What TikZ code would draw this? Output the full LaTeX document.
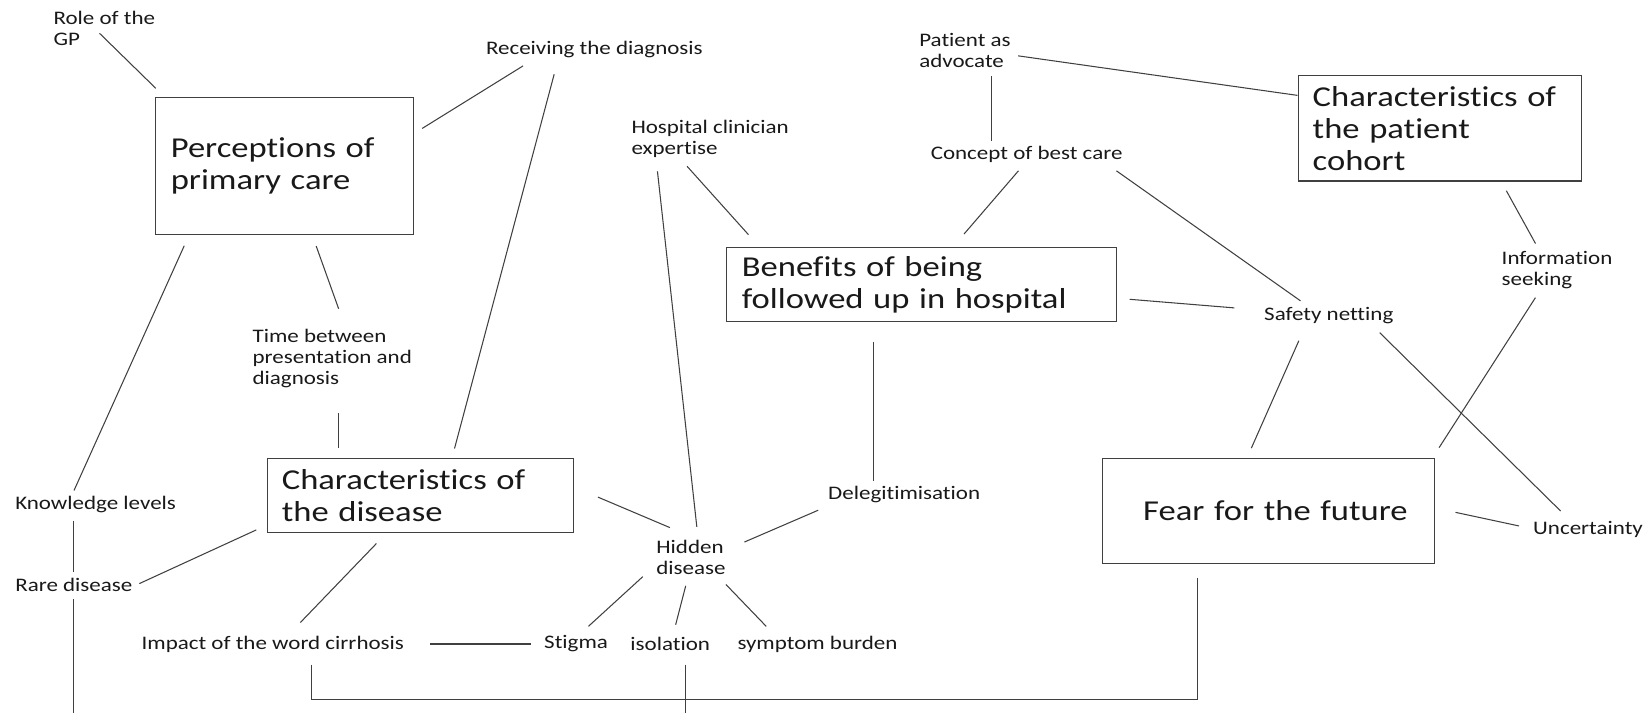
\documentclass[tikz,border=0pt]{standalone}
\usepackage{fontspec}
\setmainfont{Carlito}[FakeStretch=1.2, Ligatures=NoCommon]
\newcommand\lblfont{\fontsize{10.9pt}{11.95pt}\selectfont}
\newcommand\themefont{\fontsize{16.4pt}{18.2pt}\selectfont}
\begin{document}
\begin{tikzpicture}
                [x=0.2mm, y=-0.2mm,
                 lbl/.style={font=\lblfont, align=left, inner sep=0pt, outer sep=0pt, anchor=west, text=black!90},
                 theme/.style={draw=black!75, line width=0.6pt, font=\themefont, align=left, anchor=north west, inner ysep=0pt, text=black!90},
                 link/.style={draw=black!75, line width=0.6pt}]
                \useasboundingbox (0,0) rectangle (1650,713);
                % Define themes
                \node[theme, text width=45.4mm, inner xsep=3.06mm, minimum height=27.5mm] (percep) at (155,96.7) {Perceptions of\\primary care};
                \node[theme, text width=71.8mm, inner xsep=3.06mm, minimum height=14.7mm] (benefits) at (726,247.3) {Benefits of being\\followed up in hospital};
                \node[theme, text width=50.9mm, inner xsep=2.94mm, minimum height=21.1mm] (cohort) at (1297.5,75) {Characteristics of\\the patient\\cohort};
                \node[theme, text width=55.5mm, inner xsep=2.92mm, minimum height=14.8mm] (disease) at (266.7,457.7) {Characteristics of\\the disease};
                \node[theme, align=right, text width=55.6mm, inner xsep=5.46mm, minimum height=21.1mm] (fear) at (1101.8,457.7) {Fear for the future};
                % Define subthemes
                \node[lbl] (role) at (53.6,28.7) {Role of the\\GP};
                \node[lbl] (receiving) at (486,50) {Receiving the diagnosis};
                \node[lbl] (hospital) at (631.5,138.7) {Hospital clinician\\expertise};
                \node[lbl] (patient) at (919.3,50.8) {Patient as\\advocate};
                \node[lbl] (concept) at (930.8,154.3) {Concept of best care};
                \node[lbl] (info) at (1501.7,269.7) {Information\\seeking};
                \node[lbl] (safety) at (1264.2,316) {Safety netting};
                \node[lbl] (time) at (252.6,358.3) {Time between\\presentation and\\diagnosis};
                \node[lbl] (knowledge) at (15.3,504.3) {Knowledge levels};
                \node[lbl] (rare) at (15.3,585) {Rare disease};
                \node[lbl] (deleg) at (828.2,494) {Delegitimisation};
                \node[lbl] (hidden) at (656.4,557.5) {Hidden\\disease};
                \node[lbl] (impact) at (141.6,644) {Impact of the word cirrhosis};
                \node[lbl] (stigma) at (544.2,644) {Stigma};
                \node[lbl] (isolation) at (630.4,644) {isolation};
                \node[lbl] (symptom) at (737.5,644) {symptom burden};
                \node[lbl] (uncert) at (1533.2,529) {Uncertainty};
                \coordinate (bottomedge) at (0,713);
                % Define links
                \draw[link, shorten <=-3.6mm, shorten >=2.4mm] (role.-65.5) -- (percep.150);
                \draw[link, shorten <=2mm, shorten >=2.9mm] (percep.14) -- (receiving.188);
                \draw[link, shorten <=3.3mm, shorten >=1.9mm] (receiving.193) -- (disease.50);
                \draw[link, shorten <=2.3mm, shorten >=1.2mm] (percep.-144) -- (knowledge.161);
                \draw[link, shorten <=2.3mm, shorten >=4.3mm] (percep.-68) -- (time.65.5);
                \draw[link, shorten <=5.1mm, shorten >=1.9mm] (time.-78.5) -- (time.-78.5 |- disease.north);
                \draw[link, shorten <=1.7mm, shorten >=1.3mm] (knowledge.south -| rare.north) -- (rare.north);
                \draw[link, shorten <=1.5mm] (rare.south) -- (rare.south |- bottomedge);
                \draw[link, shorten <=2.3mm, shorten >=3.9mm] (disease.191.7) -- (rare.-8.3);
                \draw[link, shorten <=3mm, shorten >=3.7mm] (disease.-132) -- (impact.29.5);
                \draw[link, shorten <=5.2mm, shorten >=2.7mm] (impact.east) -- (stigma.west);
                \draw[link, shorten <=2.5mm, shorten >=2.7mm] (impact.-12) -- ++(0,47.7) -| (fear.-143.8);
                \draw[link, shorten <=2.8mm] (isolation.-24) -- (isolation.-24 |- bottomedge);
                \draw[link, shorten <=5.1mm, shorten >=6.5mm] (disease.3.8) -- (hidden.63);
                \draw[link, shorten <=2.8mm, shorten >=2.7mm] (hospital.199) -- (hidden.67);
                \draw[link, shorten <=2.4mm, shorten >=3.4mm] (hospital.-149.5) -- (benefits.167.4);
                \draw[link, shorten <=1.5mm] (patient.-5) -- (cohort.167.6);
                \draw[link, shorten <=1.7mm, shorten >=1.1mm] (patient.-33) -- (patient.-33 |- concept.north);
                \draw[link, shorten <=2.2mm, shorten >=3.5mm] (concept.-97.6) -- (benefits.50);
                \draw[link, shorten <=2.9mm, shorten >=2.4mm] (concept.-6.7) -- (safety.156.8);
                \draw[link, shorten <=2.6mm, shorten >=6mm] (benefits.-4.9) -- (safety.175.9);
                \draw[link, shorten <=4.1mm, shorten >=1mm] (deleg.165 |- benefits.south) -- (deleg.165);
                \draw[link, shorten <=4mm, shorten >=4.1mm] (deleg.187.1) -- (hidden.12.5);
                \draw[link, shorten <=3.7mm, shorten >=2.8mm] (hidden.191) -- (stigma.76.3);
                \draw[link, shorten <=2.3mm, shorten >=2.6mm] (hidden.-98.7) -- (isolation.72.1);
                \draw[link, shorten <=2.7mm, shorten >=2.6mm] (hidden.-34.9) -- (symptom.169.7);
                \draw[link, shorten <=2.1mm, shorten >=1.7mm] (cohort.-41.1) -- (info.133.8);
                \draw[link, shorten <=2.2mm, shorten >=2.4mm] (info.-130.6) -- (fear.18.3);
                \draw[link, shorten <=3.6mm, shorten >=2.1mm] (safety.-160.5) -- (fear.112.9);
                \draw[link, shorten <=2.4mm, shorten >=2.8mm] (safety.-11.8) -- (uncert.155.6);
                \draw[link, shorten <=4.1mm, shorten >=2.9mm] (fear.1.4) -- (uncert.180);
            \end{tikzpicture}
\end{document}
